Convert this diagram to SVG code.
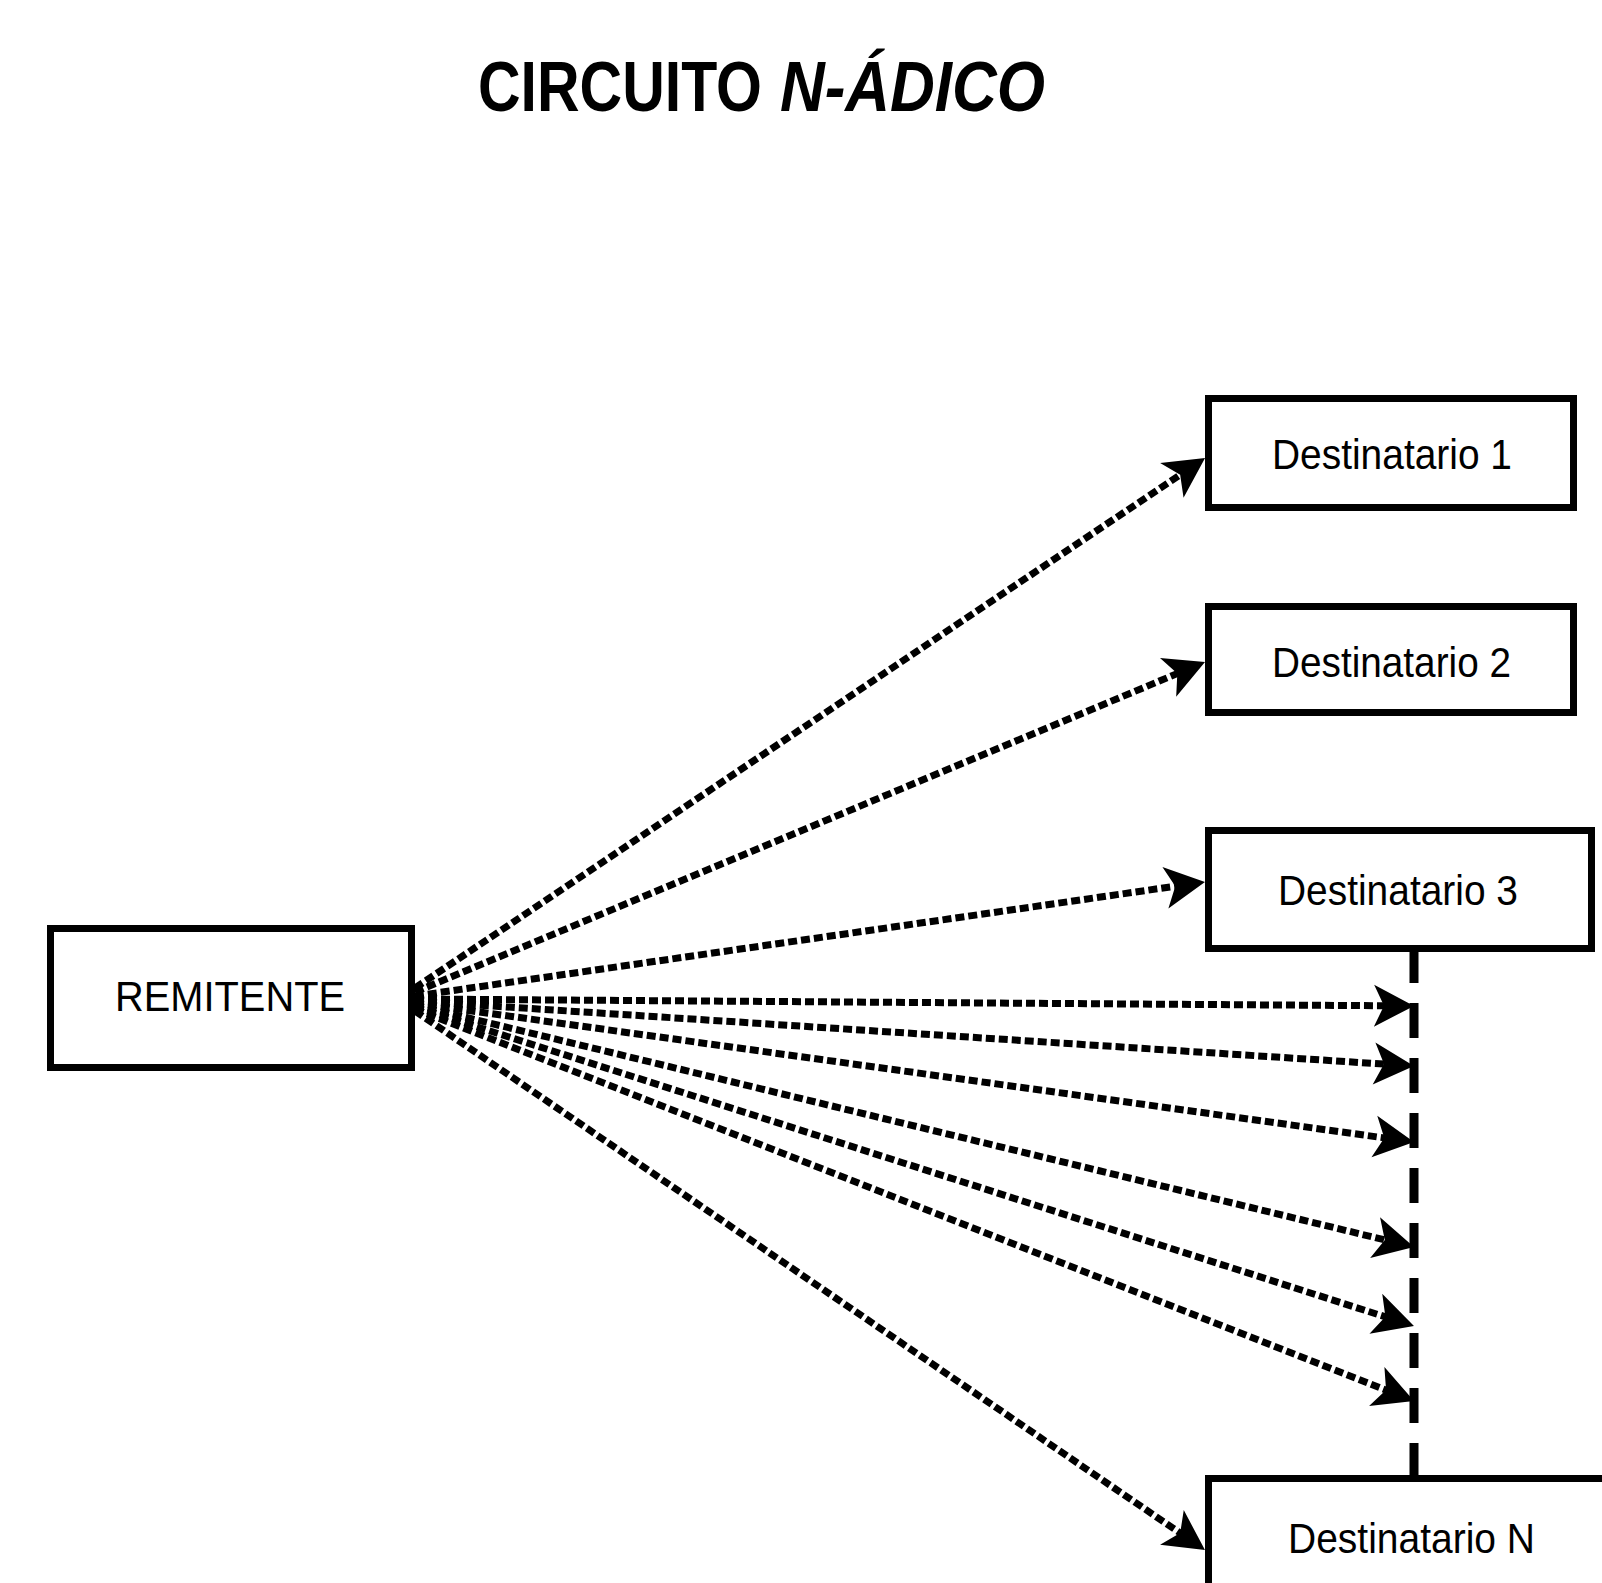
<svg xmlns="http://www.w3.org/2000/svg" width="1602" height="1583" viewBox="0 0 1602 1583">
<style>
.box{fill:#fff;stroke:#000;stroke-width:7}
.lbl{font-family:"Liberation Sans",Arial,sans-serif;font-size:43px;fill:#000}
.title{font-family:"Liberation Sans",Arial,sans-serif;font-size:71px;font-weight:bold;fill:#000}
.conn{fill:none;stroke:#000;stroke-width:7;stroke-dasharray:9 4}
.vline{fill:none;stroke:#000;stroke-width:9;stroke-dasharray:35 20}
</style>
<defs>
<marker id="arr" markerUnits="userSpaceOnUse" viewBox="-20 -23 44 46" markerWidth="44" markerHeight="46" refX="0" refY="0" orient="auto">
<path d="M22,0 L-18,-21 L-8,0 L-18,21 Z" fill="#000"/>
</marker>
</defs>
<rect width="1602" height="1583" fill="#fff"/>
<g id="title">
<text class="title" y="111"><tspan x="478" textLength="284" lengthAdjust="spacingAndGlyphs">CIRCUITO</tspan><tspan x="780" font-style="italic" textLength="265" lengthAdjust="spacingAndGlyphs">N-ÁDICO</tspan></text>
</g>
<g id="connectors">
<line class="vline" x1="1414" y1="948" x2="1414" y2="1476"/>
<line class="conn" x1="415" y1="988" x2="1186.8" y2="470.3" marker-end="url(#arr)"/>
<line class="conn" x1="415" y1="992" x2="1184.7" y2="670.5" marker-end="url(#arr)"/>
<line class="conn" x1="415" y1="996" x2="1183.2" y2="885.1" marker-end="url(#arr)"/>
<line class="conn" x1="415" y1="999" x2="1392" y2="1005.8" marker-end="url(#arr)"/>
<line class="conn" x1="415" y1="1001" x2="1392" y2="1064.6" marker-end="url(#arr)"/>
<line class="conn" x1="415" y1="1003" x2="1392.2" y2="1139" marker-end="url(#arr)"/>
<line class="conn" x1="415" y1="1005" x2="1392.6" y2="1241.8" marker-end="url(#arr)"/>
<line class="conn" x1="415" y1="1007" x2="1393" y2="1319.3" marker-end="url(#arr)"/>
<line class="conn" x1="415" y1="1009" x2="1393.5" y2="1393" marker-end="url(#arr)"/>
<line class="conn" x1="415" y1="1011" x2="1186.8" y2="1537.6" marker-end="url(#arr)"/>
</g>
<g id="remitente">
<rect class="box" x="50.5" y="928.5" width="361" height="139"/>
<text class="lbl" x="115" y="1011" font-size="47" textLength="230" lengthAdjust="spacingAndGlyphs">REMITENTE</text>
</g>
<g id="dest1">
<rect class="box" x="1208.5" y="398.5" width="365" height="109"/>
<text class="lbl" x="1272" y="469" textLength="240" lengthAdjust="spacingAndGlyphs">Destinatario 1</text>
</g>
<g id="dest2">
<rect class="box" x="1208.5" y="606.5" width="365" height="106"/>
<text class="lbl" x="1272" y="677" textLength="239" lengthAdjust="spacingAndGlyphs">Destinatario 2</text>
</g>
<g id="dest3">
<rect class="box" x="1208.5" y="830.5" width="383" height="118"/>
<text class="lbl" x="1278" y="905" textLength="240" lengthAdjust="spacingAndGlyphs">Destinatario 3</text>
</g>
<g id="destN">
<rect class="box" x="1208.5" y="1478.5" width="500" height="200"/>
<text class="lbl" x="1288" y="1553" textLength="247" lengthAdjust="spacingAndGlyphs">Destinatario N</text>
</g>
</svg>
